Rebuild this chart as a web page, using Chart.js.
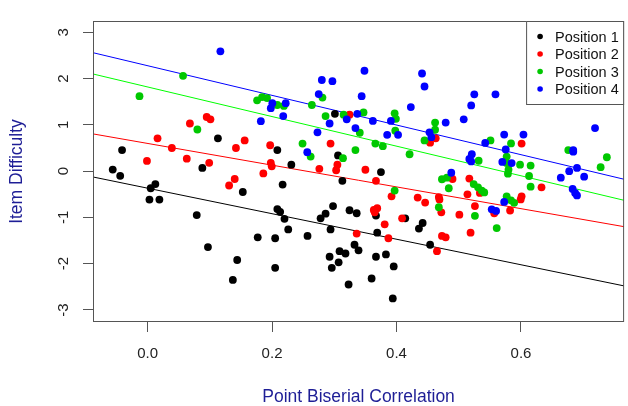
<!DOCTYPE html>
<html>
<head>
<meta charset="utf-8">
<title>Item Difficulty vs Point Biserial Correlation</title>
<script src="https://cdn.jsdelivr.net/npm/chart.js@4.4.1/dist/chart.umd.min.js"></script>
<style>
  html, body { margin: 0; padding: 0; background: #ffffff; }
  #wrap { width: 628px; height: 406px; }
</style>
</head>
<body>
<div id="wrap"><canvas id="itemChart" width="628" height="406"></canvas></div>
<script>
/* ---------- data ---------- */
var seriesNames = ["Position 1", "Position 2", "Position 3", "Position 4"];

// [point biserial, item difficulty]
var pos1 = [
  [-0.056, 0.035], [-0.044, -0.10], [-0.041, 0.455], [0.005, -0.37], [0.0125, -0.28],
  [0.003, -0.615], [0.019, -0.615], [0.079, -0.95], [0.088, 0.07], [0.097, -1.64],
  [0.113, 0.71], [0.137, -2.35], [0.144, -1.92], [0.153, -0.45], [0.177, -1.43],
  [0.205, -1.45], [0.205, -2.09], [0.2085, -0.82], [0.2085, 0.455], [0.213, -0.88],
  [0.217, -0.29], [0.220, -1.03], [0.226, -1.26], [0.231, 0.14], [0.257, -1.40],
  [0.278, -1.02], [0.286, -0.92], [0.2925, -1.85], [0.294, -1.26], [0.296, -2.09],
  [0.298, -0.755], [0.301, 1.24], [0.306, 0.34], [0.307, -1.97], [0.3085, -1.73],
  [0.313, -0.21], [0.318, -1.78], [0.323, -2.45], [0.3245, -0.845], [0.3325, -1.59],
  [0.336, -0.91], [0.339, -1.71], [0.360, -2.32], [0.367, -0.96], [0.367, -1.85],
  [0.369, -1.33], [0.375, -0.02], [0.383, -1.80], [0.394, -2.75], [0.3955, -2.06],
  [0.414, -1.02], [0.436, -1.24], [0.442, -1.12], [0.454, -1.59]
];
var pos2 = [
  [-0.001, 0.22], [0.016, 0.71], [0.039, 0.50], [0.063, 0.27], [0.068, 1.03],
  [0.095, 1.17], [0.099, 0.18], [0.101, 1.12], [0.131, -0.31], [0.140, -0.17],
  [0.142, 0.50], [0.156, 0.665], [0.186, -0.05], [0.197, 0.56], [0.198, 0.18],
  [0.1995, 0.105], [0.276, 0.05], [0.294, 0.595], [0.303, 0.02], [0.305, 0.14],
  [0.3245, 1.22], [0.336, -1.35], [0.350, 0.03], [0.3635, -0.84], [0.365, -0.89],
  [0.367, -0.21], [0.369, -0.80], [0.381, -1.15], [0.387, -1.45], [0.392, -0.545],
  [0.409, -1.02], [0.434, -0.57], [0.446, -0.68], [0.454, 0.615], [0.463, 0.71],
  [0.465, -1.73], [0.468, -0.56], [0.469, -0.61], [0.472, -0.89], [0.473, -1.40],
  [0.479, -1.43], [0.490, -0.17], [0.501, -0.94], [0.514, -0.50], [0.517, -0.16],
  [0.519, -1.33], [0.526, -0.755], [0.534, -0.47], [0.557, -0.91], [0.5825, -0.85],
  [0.5995, -0.61], [0.601, -0.545], [0.601, 0.595], [0.633, -0.35]
];
var pos3 = [
  [-0.013, 1.62], [0.057, 2.06], [0.080, 0.90], [0.176, 1.53], [0.184, 1.60],
  [0.192, 1.58], [0.2085, 1.43], [0.219, 1.41], [0.249, 0.595], [0.262, 0.315],
  [0.264, 1.43], [0.281, 1.59], [0.286, 1.19], [0.314, 0.28], [0.315, 1.22],
  [0.334, 0.455], [0.341, 0.83], [0.347, 1.27], [0.366, 0.595], [0.378, 0.54],
  [0.397, 1.25], [0.399, 1.13], [0.398, 0.875], [0.397, -0.42], [0.421, 0.365],
  [0.445, 0.665], [0.462, 1.05], [0.462, 0.895], [0.468, -0.78], [0.473, -0.175],
  [0.481, -0.14], [0.484, -0.37], [0.524, -0.28], [0.531, -0.35], [0.532, 0.225],
  [0.537, -0.42], [0.541, -0.46], [0.551, 0.665], [0.561, -1.23], [0.526, -0.965],
  [0.577, 0.315], [0.577, 0.175], [0.580, 0.035], [0.579, -0.055], [0.577, -0.545],
  [0.584, -0.63], [0.589, -0.685], [0.584, 0.60], [0.5985, 0.14], [0.613, -0.105],
  [0.6155, 0.12], [0.6155, -0.335], [0.676, 0.455], [0.728, 0.085], [0.738, 0.30]
];
var pos4 = [
  [0.117, 2.59], [0.182, 1.08], [0.198, 1.36], [0.2005, 1.47], [0.218, 1.19],
  [0.222, 1.47], [0.2566, 0.41], [0.273, 0.84], [0.275, 1.665], [0.280, 1.97],
  [0.2925, 1.03], [0.297, 1.945], [0.320, 1.12], [0.334, 0.93], [0.337, 1.24],
  [0.344, 1.62], [0.3485, 2.17], [0.362, 1.085], [0.385, 0.785], [0.391, 1.085],
  [0.4025, 0.785], [0.423, 1.385], [0.441, 2.11], [0.445, 1.83], [0.453, 0.84],
  [0.456, 0.735], [0.479, 1.05], [0.488, -0.035], [0.508, 1.12], [0.517, 0.265],
  [0.520, 0.21], [0.520, 1.42], [0.521, 0.365], [0.525, 1.66], [0.5425, 0.61],
  [0.553, -0.825], [0.559, 1.66], [0.560, -0.86], [0.570, 0.20], [0.573, 0.79],
  [0.573, -0.665], [0.5755, 0.47], [0.585, 0.175], [0.604, 0.79], [0.664, -0.14],
  [0.6775, 0.0], [0.683, -0.385], [0.684, 0.455], [0.684, 0.42], [0.687, -0.47],
  [0.690, -0.525], [0.690, 0.07], [0.7015, -0.12], [0.719, 0.93]
];

// fitted lines: difficulty at the left and right edge of the plot
var fitLeft = [-0.126, 0.805, 2.10, 2.56];
var fitRight = [-2.48, -1.20, -0.63, -0.175];

var xRange = [-0.0877, 0.7657];
var yRange = [-3.26, 3.245];
var xTicks = [0, 0.2, 0.4, 0.6];
var yTicks = [-3, -2, -1, 0, 1, 2, 3];

/* ---------- styling ---------- */
var pointColors = ["#000000", "#ff0000", "#00c800", "#0000ff"];
var lineColors = ["#000000", "#ff0000", "#00ff00", "#0000ff"];
var FONT = '"Liberation Sans", Arial, sans-serif';
var titleColor = "#1e1e96";

function toXY(arr) {
  return arr.map(function (p) { return { x: p[0], y: p[1] }; });
}

var allSeries = [pos1, pos2, pos3, pos4];
var datasets = [];

allSeries.forEach(function (s, i) {
  datasets.push({
    type: "scatter",
    label: seriesNames[i],
    data: toXY(s),
    backgroundColor: pointColors[i],
    borderColor: pointColors[i],
    pointRadius: 3.9,
    pointHoverRadius: 3.9,
    pointBorderWidth: 0,
    order: 4 - i,
    rLegend: true
  });
});

allSeries.forEach(function (s, i) {
  datasets.push({
    type: "line",
    label: "fit " + seriesNames[i],
    data: [{ x: xRange[0], y: fitLeft[i] }, { x: xRange[1], y: fitRight[i] }],
    borderColor: lineColors[i],
    borderWidth: 1,
    pointRadius: 0,
    fill: false,
    order: 10
  });
});

/* ---------- box round the plot + legend inside it ---------- */
var boxPlugin = {
  id: "rBox",
  afterDraw: function (chart) {
    var a = chart.chartArea;
    var ctx = chart.ctx;
    ctx.save();
    ctx.strokeStyle = "#555555";
    ctx.lineWidth = 1;
    ctx.strokeRect(a.left + 0.5, a.top + 0.5, a.right - a.left - 1, a.bottom - a.top - 1);

    // legend
    var items = chart.data.datasets.filter(function (d) { return d.rLegend; });
    var w = 98, h = 84;
    var bx = a.right - w, by = a.top;
    ctx.fillStyle = "#ffffff";
    ctx.fillRect(bx, by, w, h);
    ctx.strokeRect(bx + 0.5, by + 0.5, w - 1, h - 1);
    ctx.font = "14.5px " + FONT;
    ctx.textBaseline = "middle";
    ctx.textAlign = "left";
    items.forEach(function (d, i) {
      var cy = by + 15.5 + i * 17.5;
      ctx.fillStyle = d.backgroundColor;
      ctx.beginPath();
      ctx.arc(bx + 14, cy, 2.8, 0, Math.PI * 2);
      ctx.fill();
      ctx.fillStyle = "#111111";
      ctx.fillText(d.label, bx + 29, cy + 1);
    });
    ctx.restore();
  }
};

/* ---------- chart ---------- */
new Chart(document.getElementById("itemChart").getContext("2d"), {
  data: { datasets: datasets },
  plugins: [boxPlugin],
  options: {
    responsive: false,
    animation: false,
    events: [],
    layout: { padding: { left: 0, right: 2, top: 12, bottom: 0 } },
    plugins: {
      legend: { display: false },
      tooltip: { enabled: false }
    },
    scales: {
      x: {
        type: "linear",
        min: xRange[0],
        max: xRange[1],
        afterBuildTicks: function (s) {
          s.ticks = xTicks.map(function (v) { return { value: v }; });
        },
        afterFit: function (s) { s.height = 84; },
        ticks: {
          color: "#222222",
          font: { family: FONT, size: 15 },
          padding: 13,
          callback: function (v) { return v.toFixed(1); }
        },
        grid: { drawOnChartArea: false, tickLength: 10, color: "#555555" },
        border: { display: false },
        title: {
          display: true,
          text: "Point Biserial Correlation",
          color: titleColor,
          font: { family: FONT, size: 17.5, lineHeight: 1 },
          padding: { top: 0, bottom: 0 }
        }
      },
      y: {
        type: "linear",
        min: yRange[0],
        max: yRange[1],
        afterBuildTicks: function (s) {
          s.ticks = yTicks.map(function (v) { return { value: v }; });
        },
        afterFit: function (s) { s.width = 93; },
        ticks: {
          color: "#222222",
          font: { family: FONT, size: 15 },
          minRotation: 90,
          maxRotation: 90,
          crossAlign: "center",
          padding: 12,
          callback: function (v) { return String(v); }
        },
        grid: { drawOnChartArea: false, tickLength: 10, color: "#555555" },
        border: { display: false },
        title: {
          display: true,
          text: "Item Difficulty",
          color: titleColor,
          font: { family: FONT, size: 17.5, lineHeight: 1 },
          padding: { top: 8, bottom: 0 }
        }
      }
    }
  }
});
</script>
</body>
</html>
